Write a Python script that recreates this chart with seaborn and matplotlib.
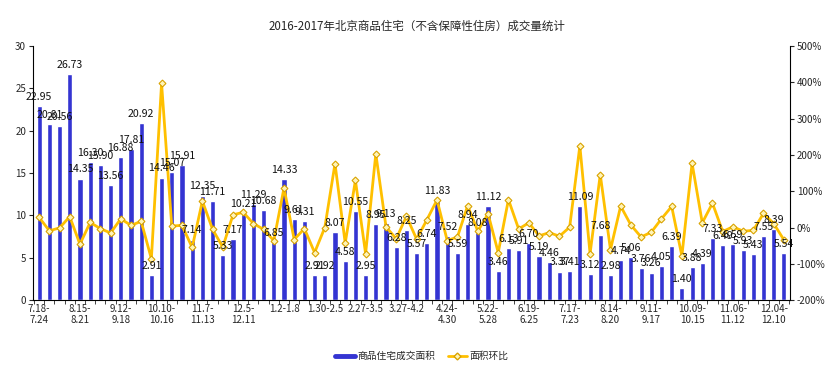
import numpy as np
import matplotlib
matplotlib.use("Agg")
import matplotlib.pyplot as plt
import seaborn as sns
from matplotlib.lines import Line2D

sns.set_style("ticks")
plt.rcParams['font.family'] = ['Noto Sans CJK SC', 'DejaVu Sans']
plt.rcParams['axes.unicode_minus'] = False

# 每周成交面积（万平米）
area = [22.95, 20.81, 20.56, 26.73, 14.35, 16.3, 15.9, 13.56, 16.88, 17.81,
        20.92, 2.91, 14.46, 15.07, 15.91, 7.14, 12.35, 11.71, 5.33, 7.17,
        10.21, 11.29, 10.68, 6.85, 14.33, 9.61, 9.31, 2.91, 2.92, 8.07,
        4.58, 10.55, 2.95, 8.95, 9.13, 6.28, 8.25, 5.57, 6.74, 11.83,
        7.52, 5.59, 8.94, 8.08, 11.12, 3.46, 6.13, 5.91, 6.70, 5.19,
        4.46, 3.37, 3.41, 11.09, 3.12, 7.68, 2.98, 4.74, 5.06, 3.76,
        3.26, 4.05, 6.39, 1.40, 3.88, 4.39, 7.33, 6.49, 6.59, 5.93,
        5.43, 7.55, 8.39, 5.54]
# 面积环比（%）
ratio = [28, -9, -1, 30, -46, 14, -3, -15, 24, 6,
         17, -86, 397, 4, 6, -55, 73, -5, -54, 35,
         42, 11, -5, -36, 109, -33, -3, -69, 0, 176,
         -43, 130, -72, 203, 2, -31, 31, -32, 21, 76,
         -36, -26, 60, -10, 38, -69, 77, -4, 13, -23,
         -14, -24, 1, 225, -72, 146, -61, 59, 7, -26,
         -13, 24, 58, -78, 177, 13, 67, -11, 2, -10,
         -8, 39, 11, -34]
tick_pos = [0, 4, 8, 12, 16, 20, 24, 28, 32, 36, 40, 44, 48, 52, 56, 60, 64, 68, 72]
tick_labels = ["7.18-\n7.24", "8.15-\n8.21", "9.12-\n9.18", "10.10-\n10.16",
               "11.7-\n11.13", "12.5-\n12.11", "1.2-1.8", "1.30-2.5", "2.27-3.5",
               "3.27-4.2", "4.24-\n4.30", "5.22-\n5.28", "6.19-\n6.25", "7.17-\n7.23",
               "8.14-\n8.20", "9.11-\n9.17", "10.09-\n10.15", "11.06-\n11.12",
               "12.04-\n12.10"]

idx = np.arange(len(area))
bar_color = '#3434D2'
line_color = '#FFC000'

fig = plt.figure(figsize=(8.36, 3.71), dpi=100)
ax = fig.add_axes([0.0395, 0.191, 0.9055, 0.685])

sns.barplot(x=idx, y=area, ax=ax, color=bar_color, width=0.5, saturation=1)
ax.set_xlim(-0.6, 73.6)
ax.set_ylim(0, 30)
ax.set_yticks(range(0, 31, 5))

ax2 = ax.twinx()
sns.lineplot(x=idx, y=ratio, ax=ax2, color=line_color, lw=2, marker='D',
             markersize=3.5, markerfacecolor='#FFF4B8', markeredgecolor='#D9A300',
             markeredgewidth=0.8)
ax2.set_ylim(-200, 500)
ax2.set_yticks(range(-200, 501, 100))
ax2.set_yticklabels([f"{v}%" for v in range(-200, 501, 100)])
ax2.set_xlim(-0.6, 73.6)

# 数据标签
for i, v in zip(idx, area):
    ax2.annotate(f"{v:.2f}", xy=(i, v), xycoords=ax.transData, xytext=(0, 3),
                 textcoords='offset points', ha='center', va='bottom',
                 fontsize=7.6, color='#111111', zorder=5)

ax.set_xticks(np.arange(-0.5, 74, 1))
ax.set_xticklabels([])
ax.set_xticks(tick_pos, minor=True)
ax.set_xticklabels(tick_labels, minor=True, fontsize=7, linespacing=1.1)
ax.tick_params(axis='x', which='major', direction='out', length=3, width=0.6)
ax.tick_params(axis='x', which='minor', length=0, pad=3)
ax.tick_params(axis='y', direction='out', length=3, width=0.8, labelsize=7, pad=2)
ax2.tick_params(axis='y', direction='out', length=3, width=0.8, labelsize=7, pad=2)
ax.set_xlabel("")
ax.set_ylabel("")
ax2.set_ylabel("")

for a in (ax, ax2):
    a.spines['top'].set_visible(False)
    for s in ('left', 'right', 'bottom'):
        a.spines[s].set_color('black')
        a.spines[s].set_linewidth(0.8)
ax.spines['right'].set_visible(False)
ax2.spines['left'].set_visible(False)
ax2.spines['bottom'].set_visible(False)

fig.text(0.499, 0.928, "2016-2017年北京商品住宅（不含保障性住房）成交量统计",
         ha='center', va='center', fontsize=8.3)

handles = [Line2D([], [], color=bar_color, lw=3.5),
           Line2D([], [], color=line_color, lw=2, marker='D', markersize=3.5,
                  markerfacecolor='#FFF4B8', markeredgecolor='#D9A300')]
fig.legend(handles, ["商品住宅成交面积", "面积环比"], loc='center',
           bbox_to_anchor=(0.505, 0.04), ncol=2, frameon=False, fontsize=7,
           handlelength=2, columnspacing=1.2, handletextpad=0.3)

fig.savefig("out.png", dpi=100)
